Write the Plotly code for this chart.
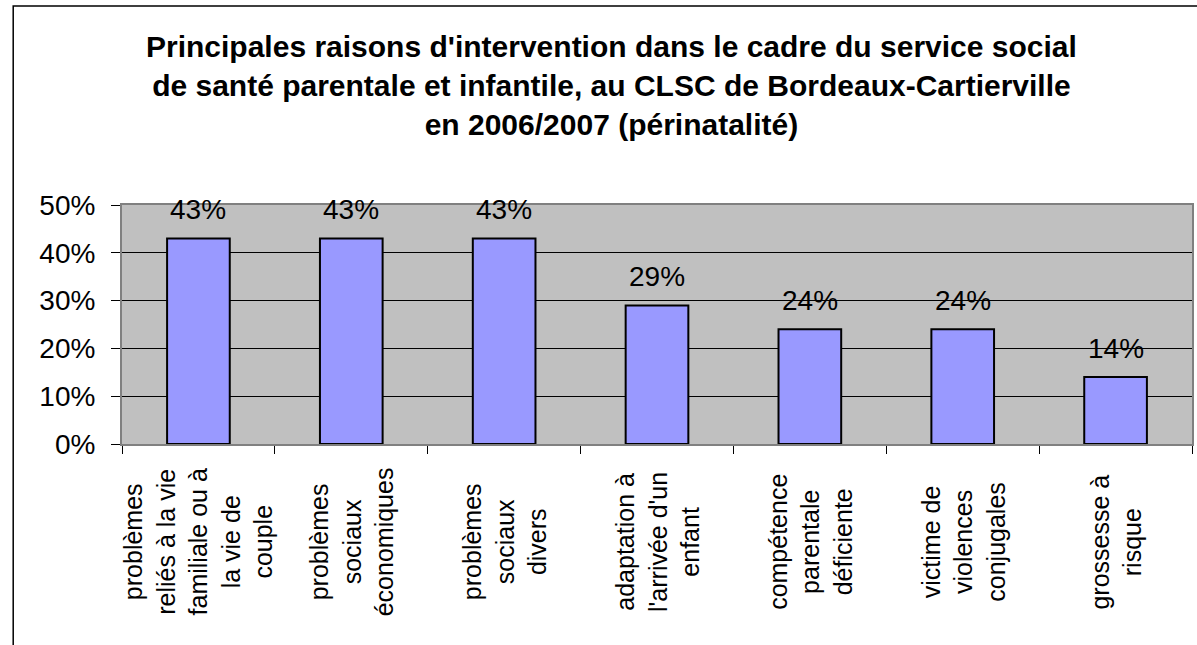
import plotly.graph_objects as go

# Reasons for intervention (share of cases), wrapped for the vertical labels
categories = [
    "problèmes<br>reliés à la vie<br>familiale ou à<br>la vie de<br>couple",
    "problèmes<br>sociaux<br>économiques",
    "problèmes<br>sociaux<br>divers",
    "adaptation à<br>l'arrivée d'un<br>enfant",
    "compétence<br>parentale<br>déficiente",
    "victime de<br>violences<br>conjugales",
    "grossesse à<br>risque",
]
shares = [0.43, 0.43, 0.43, 0.29, 0.24, 0.24, 0.14]
y_ticks = [0, 0.1, 0.2, 0.3, 0.4, 0.5]

title_text = ("<b>Principales raisons d'intervention dans le cadre du service social<br>"
              "de santé parentale et infantile, au CLSC de Bordeaux-Cartierville<br>"
              "en 2006/2007 (périnatalité)</b>")

FONT = "Liberation Sans, Arial, sans-serif"

W, H = 1197, 645
L, R, T, B = 122, 3, 205, 201
pw, ph = W - L - R, H - T - B


def px_x(x):
    return (x - L) / pw


def px_y(y):
    return (H - B - y) / ph


x_idx = list(range(len(categories)))

fig = go.Figure(
    go.Bar(
        x=x_idx,
        y=shares,
        width=0.41,
        marker=dict(color="#9999FF", line=dict(color="#000000", width=2)),
        hoverinfo="skip",
    )
)

annotations = []
# value labels above each bar
for xi, v in zip(x_idx, shares):
    annotations.append(dict(
        x=xi, y=v, xref="x", yref="y", text=f"{v:.0%}", showarrow=False,
        xanchor="center", yanchor="middle", yshift=29,
        font=dict(family=FONT, size=28, color="#000000"),
    ))
# rotated category labels, centred lines
for xi, c in zip(x_idx, categories):
    annotations.append(dict(
        x=xi, y=px_y(542), xref="x", yref="paper", text=c, showarrow=False,
        textangle=-90, align="center", xanchor="center", yanchor="middle",
        font=dict(family=FONT, size=25, color="#000000"),
    ))
# chart title
annotations.append(dict(
    x=px_x(612), y=px_y(85), xref="paper", yref="paper", text=title_text,
    showarrow=False, align="center", xanchor="center", yanchor="middle",
    font=dict(family=FONT, size=30, color="#000000"),
))

shapes = [
    # outer chart frame
    dict(type="rect", xref="paper", yref="paper",
         x0=px_x(13), y0=px_y(H + 20), x1=px_x(W + 20), y1=px_y(6),
         line=dict(color="#000000", width=1.5), fillcolor="rgba(0,0,0,0)", layer="below"),
]

fig.update_layout(
    width=W, height=H,
    margin=dict(l=L, r=R, t=T, b=B, pad=0),
    paper_bgcolor="#FFFFFF",
    plot_bgcolor="#C0C0C0",
    showlegend=False,
    annotations=annotations,
    shapes=shapes,
    font=dict(family=FONT, color="#000000"),
)

fig.update_xaxes(
    range=[-0.5, len(categories) - 0.5],
    tickvals=[i - 0.5 for i in range(len(categories) + 1)],
    showticklabels=False,
    ticks="outside", ticklen=8, tickcolor="#000000", tickwidth=1,
    showgrid=False, zeroline=False,
    showline=True, linecolor="#808080", linewidth=2, mirror=True,
)
fig.update_yaxes(
    range=[0, 0.5],
    tickvals=y_ticks,
    tickformat=".0%",
    ticks="outside", ticklen=9, tickcolor="#000000", tickwidth=1,
    ticklabelstandoff=10,
    tickfont=dict(family=FONT, size=28, color="#000000"),
    showgrid=True, gridcolor="#000000", gridwidth=1,
    zeroline=False,
    showline=True, linecolor="#808080", linewidth=2, mirror=True,
)

fig.write_html("out.html")
